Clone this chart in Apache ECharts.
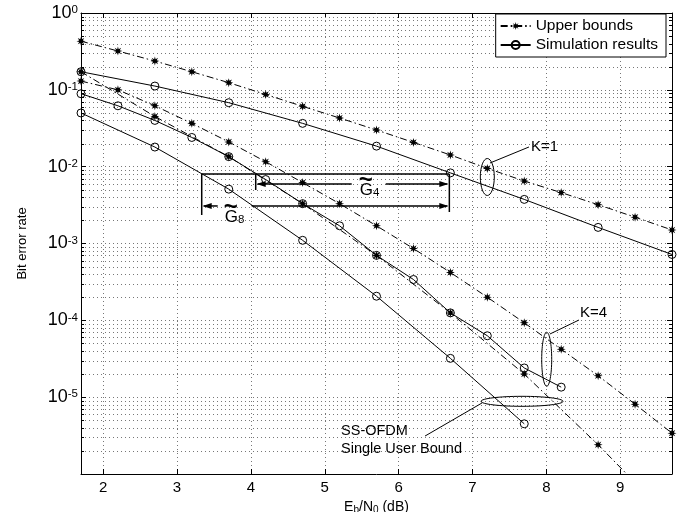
<!DOCTYPE html>
<html>
<head>
<meta charset="utf-8">
<script src="https://cdn.jsdelivr.net/npm/echarts@6/dist/echarts.min.js"></script>
<style>
  html, body { margin: 0; padding: 0; background: #fff; }
  #chart { width: 683px; height: 512px; }
</style>
</head>
<body>
<div id="chart"></div>
<script>
// Eb/N0 (dB) sample points of each curve
var snrHalf = [1.7, 2.2, 2.7, 3.2, 3.7, 4.2, 4.7, 5.2, 5.7, 6.2, 6.7, 7.2, 7.7, 8.2, 8.7, 9.2, 9.7];
var snrOne = [1.7, 2.7, 3.7, 4.7, 5.7, 6.7, 7.7, 8.7, 9.7];
var snrK4Sim = [1.7, 2.2, 2.7, 3.2, 3.7, 4.2, 4.7, 5.2, 5.7, 6.2, 6.7, 7.2, 7.7, 8.2];
var snrSingleSim = [1.7, 2.7, 3.7, 4.7, 5.7, 6.7, 7.7];

// bit error rates
var ubK1 = [0.43, 0.32, 0.237, 0.172, 0.124, 0.087, 0.061, 0.043, 0.030, 0.0207, 0.0142, 9.5e-3, 6.5e-3, 4.6e-3, 3.2e-3, 2.2e-3, 1.5e-3];
var simK1 = [0.172, 0.112, 0.068, 0.0366, 0.0185, 8.3e-3, 3.75e-3, 1.62e-3, 7.2e-4];
var ubK4 = [0.13, 0.10, 0.062, 0.0366, 0.021, 0.0116, 6.2e-3, 3.3e-3, 1.7e-3, 8.6e-4, 4.2e-4, 2.0e-4, 9.3e-5, 4.2e-5, 1.9e-5, 8.1e-6, 3.4e-6];
var simK4 = [0.089, 0.062, 0.040, 0.024, 0.0135, 6.8e-3, 3.3e-3, 1.7e-3, 7.0e-4, 3.4e-4, 1.25e-4, 6.3e-5, 2.4e-5, 1.35e-5];
var ubSingle = [0.172, 0.045, 0.0135, 3.3e-3, 7.0e-4, 1.25e-4, 2.0e-5, 2.4e-6, 2.5e-7];
var simSingle = [0.050, 0.018, 5.1e-3, 1.1e-3, 2.06e-4, 3.2e-5, 4.5e-6];

var xMin = 1.7, xMax = 9.7;
var yMin = 1e-6, yMax = 1;

var FONT = 'Liberation Sans, Arial, sans-serif';
var star = 'path://M5,0L5.84,2.97L8.54,1.46L7.03,4.16L10,5L7.03,5.84L8.54,8.54L5.84,7.03L5,10L4.16,7.03L1.46,8.54L2.97,5.84L0,5L2.97,4.16L1.46,1.46L4.16,2.97Z';

// minor log grid positions (2..9 x 10^k)
var minorVals = [];
for (var e = -6; e < 0; e++) {
  for (var m = 2; m <= 9; m++) minorVals.push(m * Math.pow(10, e));
}

function pairs(xs, ys) {
  return xs.map(function (x, i) { return [x, ys[i]]; });
}

function boundSeries(xs, ys) {
  return {
    name: 'Upper bounds', type: 'line', data: pairs(xs, ys),
    symbol: star, symbolSize: 9, showAllSymbol: true,
    itemStyle: { color: '#000' },
    lineStyle: { color: '#000', width: 1, type: [7, 3, 1.5, 3] },
    z: 3
  };
}
function simSeries(xs, ys) {
  return {
    name: 'Simulation results', type: 'line', data: pairs(xs, ys),
    symbol: 'circle', symbolSize: 8, showAllSymbol: true,
    itemStyle: { color: 'rgba(255,255,255,0)', borderColor: '#000', borderWidth: 1 },
    lineStyle: { color: '#000', width: 1 },
    z: 4
  };
}

var chart = echarts.init(document.getElementById('chart'));

var option = {
  animation: false,
  backgroundColor: '#fff',
  textStyle: { fontFamily: FONT, color: '#000' },
  grid: { left: 81, right: 11, top: 13, bottom: 38, containLabel: false, outerBoundsMode: 'none' },
  legend: {
    data: ['Upper bounds', 'Simulation results'],
    orient: 'vertical', right: 17, top: 14,
    backgroundColor: '#fff', borderColor: '#000', borderWidth: 1,
    padding: [4, 8, 4, 4], itemGap: 3, itemWidth: 30, itemHeight: 10,
    textStyle: { fontFamily: FONT, fontSize: 15.5, color: '#000' },
    selectedMode: false
  },
  xAxis: [{
    type: 'value', min: xMin, max: xMax, splitNumber: 8,
    name: 'E{sub|b}/N{sub|0} (dB)', nameLocation: 'middle', nameGap: 19,
    nameTextStyle: {
      fontFamily: FONT, fontSize: 14, color: '#000',
      rich: { sub: { fontSize: 10, verticalAlign: 'bottom', padding: [6, 0, 0, 0] } }
    },
    axisLine: { lineStyle: { color: '#000', width: 1 } },
    axisTick: { inside: true, length: 5, lineStyle: { color: '#000' } },
    axisLabel: { fontFamily: FONT, fontSize: 15, color: '#000', margin: 6, showMinLabel: false, showMaxLabel: false },
    splitLine: { show: true, lineStyle: { color: '#777', type: [1, 3] } }
  }, {
    type: 'value', min: xMin, max: xMax, splitNumber: 8, position: 'top',
    axisLine: { lineStyle: { color: '#000', width: 1 } },
    axisTick: { inside: true, length: 5, lineStyle: { color: '#000' } },
    axisLabel: { show: false },
    splitLine: { show: false }
  }],
  yAxis: [{
    type: 'log', logBase: 10, min: yMin, max: yMax, interval: 1,
    name: 'Bit error rate', nameLocation: 'middle', nameGap: 52, nameRotate: 90,
    nameTextStyle: { fontFamily: FONT, fontSize: 13, color: '#000' },
    axisLine: { lineStyle: { color: '#000', width: 1 } },
    axisTick: { inside: true, length: 5, lineStyle: { color: '#000' } },
    axisLabel: {
      margin: 3,
      formatter: function (v) {
        var ex = Math.round(Math.log10(v));
        if (ex <= -6) return '';
        return '{b|10}{s|' + ex + '}';
      },
      rich: {
        b: { fontFamily: FONT, fontSize: 18, color: '#000', verticalAlign: 'bottom', lineHeight: 18 },
        s: { fontFamily: FONT, fontSize: 11.5, color: '#000', verticalAlign: 'top', lineHeight: 11, padding: [0, 0, 14, 0] }
      }
    },
    splitLine: { show: true, lineStyle: { color: '#777', type: [1, 3] } }
  }, {
    type: 'log', logBase: 10, min: yMin, max: yMax, interval: 1, position: 'right',
    axisLine: { lineStyle: { color: '#000', width: 1 } },
    axisTick: { inside: true, length: 5, lineStyle: { color: '#000' } },
    axisLabel: { show: false },
    splitLine: { show: false }
  }],
  series: [
    {
      type: 'custom', silent: true, z: 1,
      xAxisIndex: 0, yAxisIndex: 0,
      data: minorVals.map(function (v) { return [xMin, v]; }),
      encode: { x: 0, y: 1 },
      renderItem: function (params, api) {
        var v = api.value(1);
        var a = api.coord([xMin, v]);
        var b = api.coord([xMax, v]);
        var y = Math.round(a[1]) + 0.5;
        return {
          type: 'group',
          children: [
            { type: 'line', shape: { x1: a[0], y1: y, x2: b[0], y2: y }, style: { stroke: '#777', lineWidth: 1, lineDash: [1, 3] } },
            { type: 'line', shape: { x1: a[0], y1: y, x2: a[0] + 3, y2: y }, style: { stroke: '#000', lineWidth: 1 } },
            { type: 'line', shape: { x1: b[0] - 3, y1: y, x2: b[0], y2: y }, style: { stroke: '#000', lineWidth: 1 } }
          ]
        };
      }
    },
    boundSeries(snrHalf, ubK1),
    simSeries(snrOne, simK1),
    boundSeries(snrHalf, ubK4),
    simSeries(snrK4Sim, simK4),
    boundSeries(snrOne, ubSingle),
    simSeries(snrSingleSim, simSingle)
  ]
};
chart.setOption(option);

// ---- annotations, anchored in data coordinates ----
function px(x, y) { return chart.convertToPixel({ seriesIndex: 1 }, [x, y]); }

function seg(a, b, w) {
  return { type: 'line', z: 20, shape: { x1: a[0], y1: a[1], x2: b[0], y2: b[1] }, style: { stroke: '#000', lineWidth: w || 1 } };
}
function oval(c, rx, ry) {
  return { type: 'ellipse', z: 20, shape: { cx: c[0], cy: c[1], rx: rx, ry: ry }, style: { fill: null, stroke: '#000', lineWidth: 1 } };
}
function label(x, y, s, size, align, weight) {
  return {
    type: 'text', z: 21, x: x, y: y,
    style: { text: s, fill: '#000', fontFamily: FONT, fontSize: size || 14, fontWeight: weight || 'normal', align: align || 'left', verticalAlign: 'middle' }
  };
}
function head(p, dir) {
  // dir = 1 points right, -1 points left
  return {
    type: 'polygon', z: 21,
    shape: { points: [[p[0], p[1]], [p[0] - dir * 9, p[1] - 3], [p[0] - dir * 9, p[1] + 3]] },
    style: { fill: '#000' }
  };
}
function gLabel(x, y, sub) {
  return [
    label(x + 6, y - 10, '~', 24, 'center', 'bold'),
    {
      type: 'text', z: 21, x: x, y: y,
      style: {
        text: '{g|G}{s|' + sub + '}', fill: '#000', verticalAlign: 'middle',
        rich: {
          g: { fontFamily: FONT, fontSize: 17, verticalAlign: 'top', lineHeight: 17 },
          s: { fontFamily: FONT, fontSize: 11.5, verticalAlign: 'bottom', lineHeight: 11, padding: [6, 0, 0, 0] }
        }
      }
    }
  ];
}

var g = [];

// K=1
var k1c = px(7.2, 7.34e-3);
g.push(oval(k1c, 7, 18.5));
var k1a = px(7.236, 0.01116), k1b = px(7.764, 0.01803);
g.push(seg(k1a, k1b));
g.push(label(k1b[0] + 2, k1b[1], 'K=1', 15));

// K=4
var k4c = px(8.004, 3.11e-5);
g.push(oval(k4c, 5, 27));
var k4a = px(8.048, 6.64e-5), k4b = px(8.441, 1.01e-4);
g.push(seg(k4a, k4b));
g.push(label(k4b[0] + 1, k4b[1] - 7, 'K=4', 15));

// single user bound
var suc = px(7.67, 8.83e-6);
g.push(oval(suc, 41, 5));
var sua = px(7.128, 8.4e-6), sub = px(6.357, 3.12e-6);
g.push(seg(sua, sub));
g.push(label(sub[0] - 84, sub[1] - 5, 'SS-OFDM', 14.5));
g.push(label(sub[0] - 84, sub[1] + 13, 'Single User Bound', 14.5));

// gain brackets
var topY = 8.02e-3;
var xL = 3.334, xG4 = 4.065, xR = 6.686;
var tl = px(xL, topY), tr = px(xR, topY);
g.push(seg(tl, tr, 1.5));
g.push(seg(tl, px(xL, 2.35e-3), 1.5));
g.push(seg(tr, px(xR, 2.57e-3), 1.5));
g.push(seg(px(xG4, topY), px(xG4, 4.97e-3), 1.5));

var a4l = px(xG4, 5.95e-3), a4r = px(xR, 5.95e-3);
g.push(seg([a4l[0] + 2, a4l[1]], [a4l[0] + 96, a4l[1]], 1.5));
g.push(seg([a4l[0] + 130, a4l[1]], [a4r[0] - 2, a4r[1]], 1.5));
g.push(head([a4l[0] + 1, a4l[1]], -1));
g.push(head([a4r[0] - 1, a4r[1]], 1));
g = g.concat(gLabel(a4l[0] + 104, a4l[1] + 6, '4'));

var a8l = px(xL, 3.08e-3), a8r = px(xR, 3.08e-3);
g.push(seg([a8l[0] + 2, a8l[1]], [a8l[0] + 16, a8l[1]], 1.5));
g.push(seg([a8l[0] + 50, a8l[1]], [a8r[0] - 2, a8r[1]], 1.5));
g.push(head([a8l[0] + 1, a8l[1]], -1));
g.push(head([a8r[0] - 1, a8r[1]], 1));
g = g.concat(gLabel(a8l[0] + 23, a8l[1] + 11, '8'));

chart.setOption({ graphic: g });
</script>
</body>
</html>
